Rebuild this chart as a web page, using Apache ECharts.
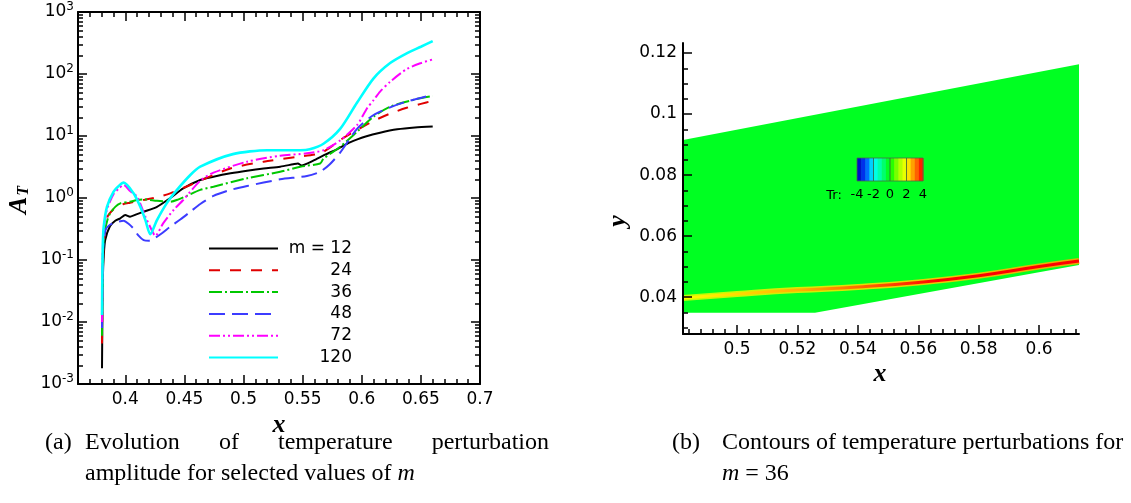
<!DOCTYPE html>
<html><head><meta charset="utf-8">
<script src="https://cdn.jsdelivr.net/npm/echarts@6/dist/echarts.min.js"></script>
<style>html,body{margin:0;padding:0;background:#fff}#c{width:1131px;height:503px}</style>
</head><body><div id="c"></div>
<script>
// ---------- data: panel (a)  [x, A_T] ----------
const m12 = [[0.3803,0.0018],[0.3806,0.01],[0.381,0.05],[0.3818,0.12],[0.383,0.21],[0.387,0.35],[0.3915,0.43],[0.3958,0.47],[0.4,0.53],[0.404,0.50],[0.41,0.55],[0.4155,0.6],[0.4268,0.72],[0.438,1.0],[0.449,1.43],[0.4634,1.95],[0.4746,2.2],[0.489,2.5],[0.503,2.76],[0.517,3.0],[0.531,3.2],[0.542,3.5],[0.546,3.6],[0.549,3.35],[0.559,4.0],[0.568,4.9],[0.579,6.1],[0.59,7.9],[0.604,9.9],[0.6155,11.3],[0.63,12.8],[0.645,13.7],[0.66,14.2]];
const m24 = [[0.3803,0.0045],[0.3806,0.02],[0.381,0.08],[0.382,0.2],[0.385,0.5],[0.39,0.66],[0.394,0.74],[0.3986,0.80],[0.404,0.84],[0.4155,0.93],[0.4268,1.03],[0.438,1.19],[0.455,1.62],[0.4634,1.9],[0.4888,3.0],[0.517,3.85],[0.545,4.6],[0.5648,5.25],[0.573,6.5],[0.5817,8.6],[0.596,12.5],[0.61,17.5],[0.624,23],[0.638,28.5],[0.65,33],[0.66,37]];
const m36 = [[0.3803,0.006],[0.3806,0.03],[0.381,0.1],[0.382,0.25],[0.385,0.45],[0.3873,0.57],[0.3915,0.72],[0.3958,0.82],[0.404,0.87],[0.41,0.93],[0.4155,0.95],[0.4268,0.9],[0.438,0.87],[0.445,0.95],[0.452,1.08],[0.4634,1.35],[0.4746,1.52],[0.503,2.08],[0.531,2.65],[0.548,3.2],[0.5648,3.6],[0.5676,4.3],[0.5817,6.7],[0.596,11.7],[0.61,20.5],[0.624,29.7],[0.6466,39.5],[0.66,44]];
const m48 = [[0.3803,0.008],[0.3806,0.04],[0.381,0.12],[0.383,0.3],[0.387,0.37],[0.393,0.41],[0.3986,0.43],[0.403,0.38],[0.407,0.32],[0.411,0.25],[0.4155,0.21],[0.42,0.205],[0.424,0.22],[0.431,0.27],[0.438,0.345],[0.4465,0.45],[0.455,0.6],[0.4634,0.8],[0.4746,1.08],[0.489,1.35],[0.503,1.56],[0.531,2.0],[0.5536,2.26],[0.5648,2.65],[0.573,3.5],[0.5817,5.4],[0.596,13],[0.61,21.8],[0.624,29],[0.638,36],[0.66,46]];
const m72 = [[0.3803,0.01],[0.3806,0.05],[0.381,0.15],[0.3817,0.3],[0.3845,0.65],[0.39,1.15],[0.395,1.45],[0.3986,1.62],[0.404,1.3],[0.41,1.05],[0.417,0.5],[0.4225,0.3],[0.4254,0.245],[0.432,0.39],[0.4408,0.64],[0.449,0.93],[0.4634,1.9],[0.4746,2.56],[0.503,3.85],[0.531,4.8],[0.5536,5.25],[0.5676,5.9],[0.5817,8.5],[0.596,15],[0.6045,28],[0.61,38],[0.6155,52],[0.624,75],[0.638,120],[0.65,150],[0.66,172]];
const m120 = [[0.3803,0.013],[0.3806,0.06],[0.381,0.18],[0.3817,0.34],[0.3845,0.72],[0.39,1.26],[0.395,1.6],[0.3986,1.77],[0.407,1.19],[0.4127,0.72],[0.417,0.44],[0.4211,0.26],[0.4268,0.44],[0.435,0.82],[0.4437,1.35],[0.455,2.35],[0.4634,3.2],[0.491,5.1],[0.52,5.9],[0.548,5.9],[0.556,6.1],[0.5676,7.5],[0.5817,13],[0.5958,34],[0.61,85],[0.624,150],[0.638,215],[0.65,275],[0.66,340]];
const seriesNames = ['m = 12','24','36','48','72','120'];
const xTicksA = [0.4,0.45,0.5,0.55,0.6,0.65,0.7];
const yTicksA = [0.001,0.01,0.1,1,10,100,1000];

// ---------- data: panel (b) ----------
const domainX = [0.4821,0.4821,0.6132,0.6132,0.5258];
const domainY = [0.0349,0.0915,0.1163,0.0505,0.0349];
const layerX = [0.4821,0.50,0.52,0.54,0.56,0.58,0.60,0.6132];
const layerY = [0.0397,0.0410,0.0423,0.0433,0.0448,0.0470,0.0500,0.0518];
const xTicksB = [0.5,0.52,0.54,0.56,0.58,0.6];
const yTicksB = [0.04,0.06,0.08,0.1,0.12];
const cbLevels = [-4,-3.5,-3,-2.5,-2,-1.5,-1,-0.5,0,0.5,1,1.5,2,2.5,3,3.5];
const cbLines = [-2,0,2];
const cbTicks = [-4,-2,0,2,4];

// ---------- helpers ----------
const SANS = 'DejaVu Sans', SERIF = 'Liberation Serif';
function range(a,b,s){const r=[];for(let v=a;v<=b+1e-9;v+=s)r.push(+v.toFixed(4));return r;}
const xMinorA = range(0.36,0.7,0.01).filter(v=>!xTicksA.some(t=>Math.abs(t-v)<1e-6));
const yMinorA = [];
for(let e=-3;e<3;e++){for(let k=2;k<=9;k++)yMinorA.push(+(k*Math.pow(10,e)).toPrecision(3));}
const xMinorB = range(0.484,0.612,0.004).filter(v=>!xTicksB.some(t=>Math.abs(t-v)<1e-6));
const yMinorB = range(0.03,0.12,0.005).filter(v=>!yTicksB.some(t=>Math.abs(t-v)<1e-6));

const lineAx = {show:true, lineStyle:{color:'#000', width:2}};
const noLab = {show:false};
function xAx(grid,pos,min,max,ticks,len,labels,line){
  return {type:'value',gridIndex:grid,position:pos,min:min,max:max,z:10,
    axisLine: line? lineAx : {show:false},
    axisTick:{show:true,inside:true,length:len,customValues:ticks,lineStyle:{color:'#000',width:1.5}},
    axisLabel: labels? {show:true,customValues:ticks,margin:7,color:'#000',fontFamily:SANS,fontSize:17,
       formatter:v=>String(+(+v).toFixed(3))} : noLab,
    splitLine:{show:false}};
}
function yAxLog(pos,ticks,len,labels,line){
  return {type:'log',logBase:10,gridIndex:0,position:pos,min:0.001,max:1000,
    axisLine: line? lineAx : {show:false},
    axisTick:{show:true,inside:true,length:len,customValues:ticks,lineStyle:{color:'#000',width:1.5}},
    axisLabel: labels? {show:true,customValues:ticks,margin:4,color:'#000',fontFamily:SANS,fontSize:17,
       formatter:v=>'{b|10}{s|'+Math.round(Math.log10(v))+'}',
       rich:{b:{fontFamily:SANS,fontSize:17,color:'#000'},s:{fontFamily:SANS,fontSize:12,color:'#000',padding:[0,0,10,0]}}} : noLab,
    splitLine:{show:false}};
}

const styles = [
  {c:'#000000',w:2,t:'solid'},
  {c:'#e00000',w:2,t:[11,10]},
  {c:'#00c800',w:2,t:[13,3,2,3]},
  {c:'#3c3cff',w:2,t:[16,7]},
  {c:'#ff00ff',w:2,t:[11,3,2,3,2,3]},
  {c:'#00ffff',w:2.6,t:'solid'}
];
const dataA = [m12,m24,m36,m48,m72,m120];

const series = dataA.map((d,i)=>({
  name:seriesNames[i], type:'line', xAxisIndex:0, yAxisIndex:0, data:d, symbol:'none', smooth:0.25,
  lineStyle:{color:styles[i].c,width:styles[i].w,type:styles[i].t}, itemStyle:{color:styles[i].c},
  animation:false, z:3+i
}));

// panel (b) domain
series.push({type:'custom', xAxisIndex:4, yAxisIndex:4, data:[0], animation:false, silent:true, clip:false,
  renderItem:(p,api)=>({type:'polygon', shape:{points:domainX.map((x,i)=>api.coord([x,domainY[i]]))}, style:{fill:'#00ff22'}})});
// layer glow + core
const layerData = layerX.map((x,i)=>[x,layerY[i]]);
series.push({type:'line', xAxisIndex:4, yAxisIndex:4, data:layerData, symbol:'none', smooth:true, animation:false, silent:true,
  lineStyle:{width:6, color:new echarts.graphic.LinearGradient(0,0,1,0,[{offset:0,color:'rgba(210,255,0,0.9)'},{offset:0.5,color:'rgba(255,220,0,0.9)'},{offset:1,color:'rgba(255,160,0,0.9)'}])}});
series.push({type:'line', xAxisIndex:4, yAxisIndex:4, data:layerData, symbol:'none', smooth:true, animation:false, silent:true,
  lineStyle:{width:3, color:new echarts.graphic.LinearGradient(0,0,1,0,[{offset:0,color:'#ffff00'},{offset:0.3,color:'#ffb000'},{offset:0.5,color:'#ff5000'},{offset:0.65,color:'#ff0000'},{offset:1,color:'#ff0000'}])}});
// colorbar
const cbIndex = series.length;
series.push({type:'custom', xAxisIndex:6, yAxisIndex:6, data:cbLevels.map(v=>[v,v+0.25]), animation:false, silent:true, z:20,
  renderItem:(p,api)=>{const a=api.coord([api.value(0),0]), b=api.coord([api.value(0)+0.5,1]);
    return {type:'rect', shape:{x:a[0],y:b[1],width:b[0]-a[0]+0.5,height:a[1]-b[1]}, style:{fill:api.visual('color')}};}});
series.push({type:'custom', xAxisIndex:6, yAxisIndex:6, data:cbLines, animation:false, silent:true, z:21,
  renderItem:(p,api)=>{const a=api.coord([api.value(0),0]), b=api.coord([api.value(0),1]);
    return {type:'line', shape:{x1:a[0],y1:a[1],x2:b[0],y2:b[1]}, style:{stroke:'#3a5a3a',lineWidth:0.8}};}});

const option = {
  backgroundColor:'#fff',
  animation:false,
  grid:[
    {left:78, top:12, width:402, height:372},
    {left:683, top:43, width:396, height:291},
    {left:857, top:158, width:66, height:23, show:true, borderColor:'#4a6a4a', borderWidth:0.8, backgroundColor:'transparent', z:30}
  ],
  xAxis:[
    xAx(0,'bottom',0.36,0.7,xTicksA,9,true,true),
    xAx(0,'bottom',0.36,0.7,xMinorA,5,false,false),
    xAx(0,'top',0.36,0.7,xTicksA,9,false,true),
    xAx(0,'top',0.36,0.7,xMinorA,5,false,false),
    xAx(1,'bottom',0.4821,0.6132,xTicksB,9,true,true),
    xAx(1,'bottom',0.4821,0.6132,xMinorB,5,false,false),
    {type:'value',gridIndex:2,min:-4,max:4,position:'bottom',z:30,axisLine:{show:false},axisTick:{show:false},splitLine:{show:false},
      axisLabel:{customValues:cbTicks,margin:7,color:'#000',fontFamily:SANS,fontSize:13}}
  ],
  yAxis:[
    yAxLog('left',yTicksA,9,true,true),
    yAxLog('left',yMinorA,5,false,false),
    yAxLog('right',yTicksA,9,false,true),
    yAxLog('right',yMinorA,5,false,false),
    {type:'value',gridIndex:1,position:'left',min:0.0279,max:0.1233,axisLine:lineAx,z:10,
      axisTick:{show:true,inside:true,length:9,customValues:yTicksB,lineStyle:{color:'#000',width:1.5}},
      axisLabel:{customValues:yTicksB,margin:6,color:'#000',fontFamily:SANS,fontSize:17,formatter:v=>String(+(+v).toFixed(3))},splitLine:{show:false}},
    {type:'value',gridIndex:1,position:'left',min:0.0279,max:0.1233,axisLine:{show:false},z:10,
      axisTick:{show:true,inside:true,length:5,customValues:yMinorB,lineStyle:{color:'#000',width:1.5}},
      axisLabel:{show:false},splitLine:{show:false}},
    {type:'value',gridIndex:2,min:0,max:1,show:false}
  ],
  visualMap:[{type:'continuous', show:false, seriesIndex:cbIndex, dimension:1, min:-4, max:4,
    inRange:{color:['#0000b4','#0040ff','#00ffff','#00ff90','#00ff00','#a0ff00','#ffff00','#ff8000','#ff0000']}}],
  legend:{data:seriesNames, orient:'vertical', left:203, top:235, itemWidth:69, itemHeight:14, itemGap:4.8,
    selectedMode:false, formatter:n=>'{r|'+n+'}', itemStyle:{opacity:0, borderWidth:0},
    textStyle:{color:'#000',fontFamily:SANS,fontSize:17,lineHeight:14,
      rich:{r:{width:69,align:'right',fontFamily:SANS,fontSize:17,lineHeight:14,color:'#000'}}}},
  graphic:[
    {type:'text', z:100, x:19, y:200, rotation:Math.PI/2, style:{text:'{a|A}{t|T}', align:'center', verticalAlign:'middle',
      rich:{a:{fontFamily:SERIF,fontStyle:'italic',fontWeight:'bold',fontSize:26,fill:'#000'},
            t:{fontFamily:SERIF,fontStyle:'italic',fontWeight:'bold',fontSize:16,fill:'#000',padding:[10,0,0,1]}}}},
    {type:'text', z:100, x:279, y:425, style:{text:'x', font:'italic bold 26px "Liberation Serif"', fill:'#000', align:'center', verticalAlign:'middle'}},
    {type:'text', z:100, x:618, y:221, rotation:Math.PI/2, style:{text:'y', font:'italic bold 26px "Liberation Serif"', fill:'#000', align:'center', verticalAlign:'middle'}},
    {type:'text', z:100, x:880, y:374, style:{text:'x', font:'italic bold 26px "Liberation Serif"', fill:'#000', align:'center', verticalAlign:'middle'}},
    {type:'text', z:100, x:834, y:196, style:{text:'Tr:', font:'13px "DejaVu Sans"', fill:'#000', align:'center', verticalAlign:'middle'}},
    // captions
    {type:'text', z:100, x:45, y:443, style:{text:'(a)', font:'24px "Liberation Serif"', fill:'#000', verticalAlign:'middle'}},
    {type:'text', z:100, x:85, y:443, style:{text:'Evolution', font:'24px "Liberation Serif"', fill:'#000', verticalAlign:'middle'}},
    {type:'text', z:100, x:219, y:443, style:{text:'of', font:'24px "Liberation Serif"', fill:'#000', verticalAlign:'middle'}},
    {type:'text', z:100, x:278, y:443, style:{text:'temperature', font:'24px "Liberation Serif"', fill:'#000', verticalAlign:'middle'}},
    {type:'text', z:100, x:549, y:443, style:{text:'perturbation', font:'24px "Liberation Serif"', fill:'#000', align:'right', verticalAlign:'middle'}},
    {type:'text', z:100, x:85, y:474, style:{text:'amplitude for selected values of {i|m}', font:'24px "Liberation Serif"', fill:'#000', verticalAlign:'middle',
      rich:{i:{fontFamily:SERIF,fontStyle:'italic',fontSize:24,fill:'#000'}}}},
    {type:'text', z:100, x:672, y:443, style:{text:'(b)', font:'24px "Liberation Serif"', fill:'#000', verticalAlign:'middle'}},
    {type:'text', z:100, x:722, y:443, style:{text:'Contours of temperature perturbations for', font:'24px "Liberation Serif"', fill:'#000', verticalAlign:'middle'}},
    {type:'text', z:100, x:722, y:474, style:{text:'{i|m} = 36', font:'24px "Liberation Serif"', fill:'#000', verticalAlign:'middle',
      rich:{i:{fontFamily:SERIF,fontStyle:'italic',fontSize:24,fill:'#000'}}}}
  ],
  series:series
};
const chart = echarts.init(document.getElementById('c'), null, {renderer:'canvas'});
chart.setOption(option);
</script></body></html>
